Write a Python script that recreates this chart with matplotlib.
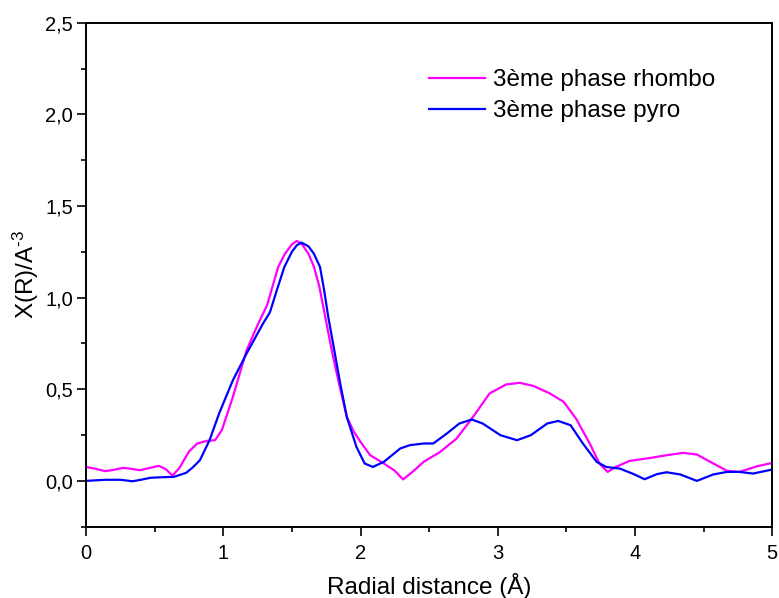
import matplotlib.pyplot as plt
from matplotlib.ticker import MultipleLocator, FuncFormatter

plt.rcParams['font.family'] = ['Liberation Sans', 'DejaVu Sans']
plt.rcParams['mathtext.fontset'] = 'custom'
plt.rcParams['mathtext.rm'] = 'Liberation Sans'
plt.rcParams['mathtext.it'] = 'Liberation Sans'

# 3eme phase rhombo
r_rhombo = [0.00, 0.07, 0.14, 0.20, 0.27, 0.33, 0.39, 0.46, 0.53, 0.58, 0.63, 0.68,
            0.75, 0.81, 0.88, 0.94, 0.99, 1.07, 1.17, 1.25, 1.32, 1.40, 1.45, 1.50,
            1.535, 1.57, 1.62, 1.66, 1.70, 1.734, 1.77, 1.80, 1.85, 1.90, 1.95, 2.00,
            2.07, 2.17, 2.25, 2.31, 2.38, 2.46, 2.58, 2.70, 2.82, 2.94, 3.06, 3.16,
            3.26, 3.38, 3.48, 3.57, 3.67, 3.74, 3.80, 3.86, 3.96, 4.11, 4.23, 4.35,
            4.45, 4.57, 4.67, 4.76, 4.89, 5.00]
chi_rhombo = [0.076, 0.066, 0.053, 0.060, 0.071, 0.066, 0.058, 0.070, 0.082, 0.065, 0.029, 0.070,
              0.160, 0.204, 0.218, 0.222, 0.277, 0.458, 0.713, 0.850, 0.960, 1.167, 1.240, 1.290,
              1.309, 1.295, 1.240, 1.170, 1.060, 0.930, 0.790, 0.677, 0.510, 0.349, 0.270, 0.213,
              0.140, 0.095, 0.055, 0.008, 0.050, 0.104, 0.158, 0.231, 0.349, 0.477, 0.526, 0.535,
              0.518, 0.477, 0.431, 0.340, 0.204, 0.095, 0.049, 0.076, 0.109, 0.125, 0.140, 0.153,
              0.144, 0.095, 0.055, 0.049, 0.080, 0.098]

# 3eme phase pyro
r_pyro = [0.00, 0.07, 0.14, 0.25, 0.34, 0.40, 0.47, 0.56, 0.64, 0.73, 0.78, 0.83,
          0.90, 0.97, 1.07, 1.17, 1.29, 1.34, 1.39, 1.445, 1.50, 1.535, 1.57, 1.62,
          1.66, 1.705, 1.735, 1.765, 1.80, 1.85, 1.90, 1.97, 2.03, 2.09, 2.17, 2.29, 2.36,
          2.46, 2.53, 2.63, 2.72, 2.81, 2.89, 3.02, 3.14, 3.24, 3.36, 3.44, 3.53,
          3.62, 3.72, 3.79, 3.89, 3.99, 4.07, 4.16, 4.23, 4.33, 4.45, 4.57, 4.67,
          4.76, 4.86, 5.00]
chi_pyro = [0.000, 0.003, 0.006, 0.006, -0.002, 0.006, 0.017, 0.020, 0.022, 0.044, 0.075, 0.113,
            0.222, 0.368, 0.549, 0.695, 0.859, 0.920, 1.040, 1.167, 1.250, 1.285, 1.300, 1.280,
            1.240, 1.167, 1.040, 0.895, 0.750, 0.540, 0.349, 0.186, 0.095, 0.076, 0.104, 0.177, 0.195,
            0.204, 0.204, 0.259, 0.313, 0.335, 0.313, 0.249, 0.222, 0.249, 0.313, 0.327, 0.304,
            0.204, 0.104, 0.076, 0.067, 0.037, 0.009, 0.037, 0.047, 0.035, 0.000, 0.035, 0.049,
            0.049, 0.040, 0.062]

fig = plt.figure(figsize=(7.79, 5.98), dpi=100)
ax = fig.add_axes([86 / 779, 1 - 526.7 / 598, (772.3 - 86) / 779, (526.7 - 22.7) / 598])

ax.plot(r_rhombo, chi_rhombo, color='#ff00ff', lw=1.6, label='3ème phase rhombo')
ax.plot(r_pyro, chi_pyro, color='#0000ff', lw=1.6, label='3ème phase pyro')

ax.set_xlim(0, 5)
ax.set_ylim(-0.25, 2.5)
ax.xaxis.set_major_locator(MultipleLocator(1))
ax.xaxis.set_minor_locator(MultipleLocator(0.5))
ax.yaxis.set_major_locator(MultipleLocator(0.5))
ax.yaxis.set_minor_locator(MultipleLocator(0.25))
ax.yaxis.set_major_formatter(FuncFormatter(lambda v, p: f"{v:.1f}".replace('.', ',')))
ax.xaxis.set_major_formatter(FuncFormatter(lambda v, p: f"{v:.0f}"))

ax.tick_params(which='both', direction='out', top=False, right=False, labelsize=14.5, width=1.2)
ax.tick_params(which='major', length=6.3)
ax.tick_params(axis='y', which='major', pad=3)
ax.tick_params(axis='x', which='major', pad=6)
ax.tick_params(which='minor', length=3.4)
for s in ax.spines.values():
    s.set_linewidth(1.4)

ax.set_xlabel('Radial distance (Å)', fontsize=17.5, labelpad=7)
ax.set_ylabel('X(R)/A$^{\\mathregular{\u20103}}$', fontsize=17.5, labelpad=3)

ax.legend(loc='upper left', bbox_to_anchor=(429 / 779, 1 - 69 / 598), bbox_transform=fig.transFigure,
          frameon=False, fontsize=17.5, handlelength=2.3, handletextpad=0.35,
          borderpad=0, borderaxespad=0, labelspacing=0.38)

fig.savefig('out.png', dpi=100)
